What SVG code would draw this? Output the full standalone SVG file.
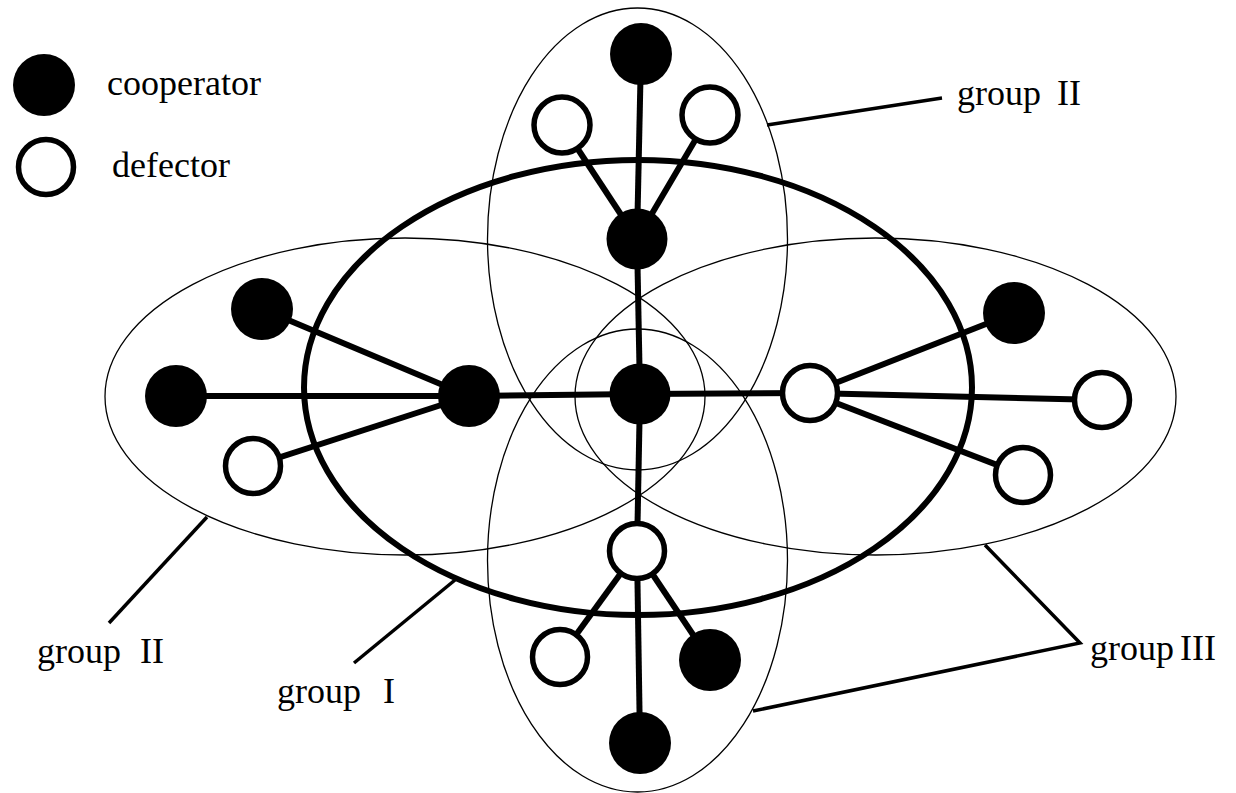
<svg xmlns="http://www.w3.org/2000/svg" width="1236" height="793" viewBox="0 0 1236 793">
<style>
.thin{fill:none;stroke:#000;stroke-width:1.3}
.thick{fill:none;stroke:#000;stroke-width:6}
.edge{stroke:#000;stroke-width:6;stroke-linecap:butt}
.lead{stroke:#000;stroke-width:3.5;fill:none}
.c{fill:#000}
.d{fill:#fff;stroke:#000;stroke-width:5.5}
text{font-family:"Liberation Serif","Times New Roman",serif;font-size:36px;fill:#000}
</style>
<rect width="1236" height="793" fill="#fff"/>
<g id="groups">
<ellipse class="thin" cx="637.5" cy="239" rx="150" ry="231"/>
<ellipse class="thin" cx="637.5" cy="560.5" rx="150" ry="231.5"/>
<ellipse class="thin" cx="405" cy="396.5" rx="300" ry="158.5"/>
<ellipse class="thin" cx="875.5" cy="396.5" rx="300.5" ry="158.5"/>
<ellipse class="thick" cx="638" cy="387.5" rx="334" ry="227.5"/>
</g>
<g id="connectors">
<line class="edge" x1="641" y1="54" x2="637" y2="239"/>
<line class="edge" x1="562" y1="125" x2="637" y2="239"/>
<line class="edge" x1="710" y1="115" x2="637" y2="239"/>
<line class="edge" x1="637" y1="239" x2="640" y2="394"/>
<line class="edge" x1="469" y1="396" x2="640" y2="394"/>
<line class="edge" x1="640" y1="394" x2="810" y2="393"/>
<line class="edge" x1="640" y1="394" x2="637" y2="551"/>
<line class="edge" x1="469" y1="396" x2="262" y2="309"/>
<line class="edge" x1="469" y1="396" x2="176" y2="396"/>
<line class="edge" x1="469" y1="396" x2="253" y2="466"/>
<line class="edge" x1="810" y1="393" x2="1014" y2="313"/>
<line class="edge" x1="810" y1="393" x2="1102" y2="400"/>
<line class="edge" x1="810" y1="393" x2="1023" y2="475"/>
<line class="edge" x1="637" y1="551" x2="560" y2="657"/>
<line class="edge" x1="637" y1="551" x2="710" y2="660"/>
<line class="edge" x1="637" y1="551" x2="640" y2="743"/>
<polyline class="lead" points="767,125 942,98"/>
<polyline class="lead" points="207,517 109,623"/>
<polyline class="lead" points="455,580 354,663"/>
<polyline class="lead" points="985,545 1080,643 753,711"/>
</g>
<g id="legend">
<circle class="c" cx="44" cy="85" r="31"/>
<circle class="d" cx="46" cy="167" r="27.5"/>
<text x="107" y="95">cooperator</text>
<text x="112" y="177">defector</text>
</g>
<g id="n-top"><circle class="c" cx="641" cy="54" r="31"/></g>
<g id="n-tl"><circle class="d" cx="562" cy="125" r="28"/></g>
<g id="n-tr"><circle class="d" cx="710" cy="115" r="28"/></g>
<g id="n-uc"><circle class="c" cx="637" cy="239" r="30.5"/></g>
<g id="n-center"><circle class="c" cx="640" cy="394" r="30.5"/></g>
<g id="n-lm"><circle class="c" cx="469" cy="396" r="31"/></g>
<g id="n-l1"><circle class="c" cx="262" cy="309" r="31"/></g>
<g id="n-l2"><circle class="c" cx="176" cy="396" r="31"/></g>
<g id="n-l3"><circle class="d" cx="253" cy="466" r="27.5"/></g>
<g id="n-rm"><circle class="d" cx="810" cy="393" r="27.5"/></g>
<g id="n-r1"><circle class="c" cx="1014" cy="313" r="31"/></g>
<g id="n-r2"><circle class="d" cx="1102" cy="400" r="27.5"/></g>
<g id="n-r3"><circle class="d" cx="1023" cy="475" r="27.5"/></g>
<g id="n-bm"><circle class="d" cx="637" cy="551" r="27.5"/></g>
<g id="n-b1"><circle class="d" cx="560" cy="657" r="27.5"/></g>
<g id="n-b2"><circle class="c" cx="710" cy="660" r="31"/></g>
<g id="n-b3"><circle class="c" cx="640" cy="743" r="31"/></g>
<g id="labels">
<text x="957" y="105">group<tspan x="1057">II</tspan></text>
<text x="37" y="663">group<tspan x="140">II</tspan></text>
<text x="277" y="703">group<tspan x="383">I</tspan></text>
<text x="1090" y="660">group<tspan x="1180">III</tspan></text>
</g>
</svg>
